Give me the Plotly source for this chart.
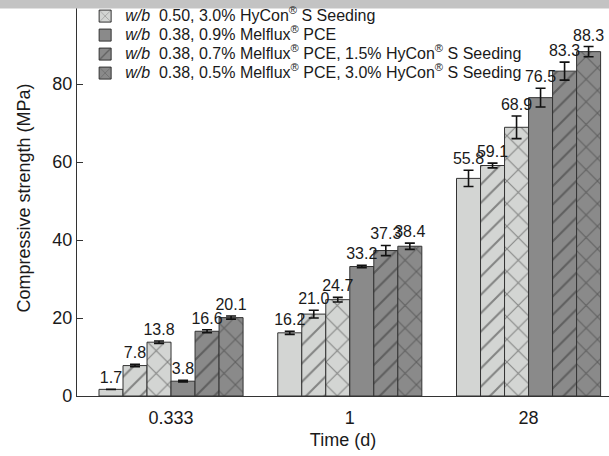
import plotly.graph_objects as go

# ---------------- data ----------------
times = ["0.333", "1", "28"]

series_names = [
    "<i>w/b</i>  0.50",
    "<i>w/b</i>  0.50, 1.5% HyCon<sup>®</sup> S Seeding",
    "<i>w/b</i>  0.50, 3.0% HyCon<sup>®</sup> S Seeding",
    "<i>w/b</i>  0.38, 0.9% Melflux<sup>®</sup> PCE",
    "<i>w/b</i>  0.38, 0.7% Melflux<sup>®</sup> PCE, 1.5% HyCon<sup>®</sup> S Seeding",
    "<i>w/b</i>  0.38, 0.5% Melflux<sup>®</sup> PCE, 3.0% HyCon<sup>®</sup> S Seeding",
]

strength_wb050 = [1.7, 16.2, 55.8]
strength_wb050_hycon15 = [7.8, 21.0, 59.1]
strength_wb050_hycon30 = [13.8, 24.7, 68.9]
strength_wb038_pce09 = [3.8, 33.2, 76.5]
strength_wb038_pce07_hycon15 = [16.6, 37.3, 83.3]
strength_wb038_pce05_hycon30 = [20.1, 38.4, 88.3]

err_wb050 = [0.0, 0.4, 2.1]
err_wb050_hycon15 = [0.3, 1.0, 0.6]
err_wb050_hycon30 = [0.3, 0.6, 2.9]
err_wb038_pce09 = [0.2, 0.3, 2.4]
err_wb038_pce07_hycon15 = [0.4, 1.3, 2.3]
err_wb038_pce05_hycon30 = [0.4, 0.8, 1.3]

series_values = [strength_wb050, strength_wb050_hycon15, strength_wb050_hycon30,
                 strength_wb038_pce09, strength_wb038_pce07_hycon15, strength_wb038_pce05_hycon30]
series_errors = [err_wb050, err_wb050_hycon15, err_wb050_hycon30,
                 err_wb038_pce09, err_wb038_pce07_hycon15, err_wb038_pce05_hycon30]
legend_visible = [False, False, True, True, True, True]

# ---------------- styles ----------------
LIGHT = "#d3d5d3"
DARK = "#8a8a8a"
bar_colors = [LIGHT, LIGHT, LIGHT, DARK, DARK, DARK]
bar_patterns = ["", "/", "x", "", "/", "x"]
pattern_sizes = [12, 13, 16, 12, 13, 16]
pattern_solidity = [0.2, 0.16, 0.13, 0.2, 0.16, 0.13]
FONT = "Liberation Sans, Arial, sans-serif"
TXT = "#1a1a1a"

fig = go.Figure()

for i, (name, vals, errs) in enumerate(zip(series_names, series_values, series_errors)):
    fig.add_trace(go.Bar(
        x=times, y=vals, name='<span style="font-size:16px">' + name + '</span>',
        offsetgroup=str(i),
        marker=dict(color=bar_colors[i],
                    line=dict(color="#333333", width=1),
                    pattern=dict(shape=bar_patterns[i], fgcolor="#333333",
                                 bgcolor=bar_colors[i], size=pattern_sizes[i],
                                 solidity=pattern_solidity[i])),
        error_y=dict(type="data", array=errs, visible=True, color="#111111",
                     thickness=1.6, width=5),
        showlegend=legend_visible[i], hoverinfo="skip",
    ))

# value labels sitting just above each error bar
for i, (vals, errs) in enumerate(zip(series_values, series_errors)):
    fig.add_trace(go.Bar(
        x=times, y=[v + e for v, e in zip(vals, errs)],
        offsetgroup=str(i),
        marker=dict(color="rgba(0,0,0,0)", line=dict(width=0)),
        text=[f"{v:.1f}" for v in vals], textposition="outside",
        textfont=dict(family=FONT, size=16, color=TXT),
        constraintext="none", cliponaxis=False,
        showlegend=False, hoverinfo="skip",
    ))

fig.update_layout(
    width=609, height=456,
    margin=dict(l=77, r=0, t=0, b=60),
    paper_bgcolor="white", plot_bgcolor="white",
    barmode="group", bargap=0.194, bargroupgap=0,
    font=dict(family=FONT, size=18, color=TXT),
    legend=dict(x=0.0153, y=0.996, xanchor="left", yanchor="top",
                bgcolor="rgba(0,0,0,0)", font=dict(size=12, family=FONT, color=TXT),
                tracegroupgap=0, traceorder="normal"),
    xaxis=dict(type="category", range=[-0.526, 2.45], showline=True,
               linecolor="#333333", linewidth=1.2, ticks="", showgrid=False,
               tickfont=dict(size=18), ticklabelstandoff=5,
               title=dict(text="Time (d)", font=dict(size=18), standoff=6)),
    yaxis=dict(range=[0, 101.54], dtick=20, showline=True, linecolor="#333333",
               linewidth=1.2, ticks="inside", ticklen=6, tickcolor="#333333",
               showgrid=False, zeroline=False, tickfont=dict(size=18),
               title=dict(text="Compressive strength (MPa)", font=dict(size=18), standoff=16)),
    showlegend=True,
    shapes=[dict(type="rect", xref="paper", yref="paper", x0=-0.2, x1=1.01,
                 y0=1 - 8.5 / 396, y1=1.02, fillcolor="#c3c3c3",
                 line=dict(width=0), layer="above")],
)

fig.write_html("out.html")
